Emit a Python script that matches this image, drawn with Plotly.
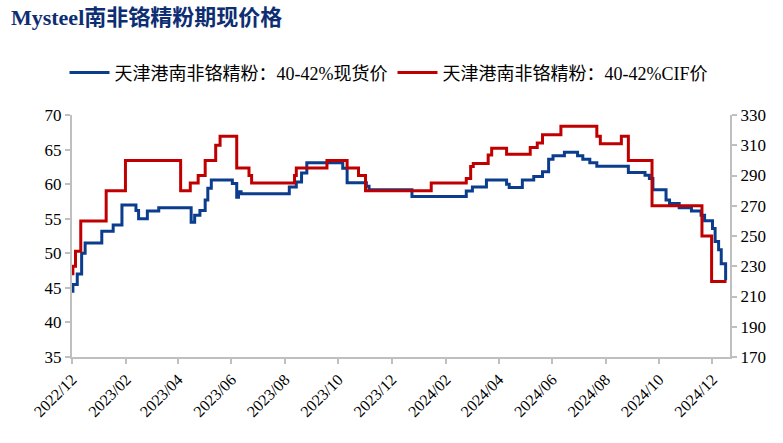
import plotly.graph_objects as go

spot_dates = ["2022-12-01", "2022-12-02", "2022-12-07", "2022-12-12", "2022-12-16",
              "2023-01-04", "2023-01-17", "2023-01-27", "2023-02-12", "2023-02-15",
              "2023-02-25", "2023-03-10", "2023-04-16", "2023-04-20", "2023-04-26",
              "2023-05-02", "2023-05-05", "2023-05-09", "2023-06-02", "2023-06-07",
              "2023-06-09", "2023-06-12", "2023-08-06", "2023-08-14", "2023-08-20",
              "2023-08-26", "2023-10-06", "2023-10-11", "2023-11-02", "2023-11-05",
              "2023-12-24", "2024-02-24", "2024-03-02", "2024-03-18", "2024-04-10",
              "2024-04-13", "2024-04-28", "2024-05-11", "2024-05-21", "2024-05-28",
              "2024-06-02", "2024-06-15", "2024-06-30", "2024-07-06", "2024-07-14",
              "2024-07-22", "2024-08-27", "2024-09-15", "2024-09-20", "2024-09-24",
              "2024-10-09", "2024-10-13", "2024-10-24", "2024-11-07", "2024-11-18",
              "2024-11-22", "2024-12-01", "2024-12-04", "2024-12-08", "2024-12-11",
              "2024-12-16"]
spot_values = [44.5, 45.5, 47.0, 50.0, 51.5,
               53.2, 54.1, 57.0, 56.2, 55.0,
               56.1, 56.6, 54.5, 55.5, 56.2,
               57.7, 59.4, 60.6, 60.1, 58.1,
               58.9, 58.6, 59.6, 60.3, 61.6,
               63.1, 62.3, 60.2, 59.7, 59.2,
               58.2, 59.0, 59.6, 60.6, 60.0,
               59.5, 60.6, 61.1, 61.8, 63.6,
               64.1, 64.6, 64.1, 63.6, 63.1,
               62.6, 61.7, 61.3, 60.8, 59.2,
               57.7, 57.2, 56.6, 56.1, 55.5,
               54.7, 53.6, 51.7, 50.5, 48.5,
               46.1]

cif_dates = ["2022-12-01", "2022-12-02", "2022-12-05", "2022-12-11", "2023-01-09",
             "2023-01-31", "2023-04-04", "2023-04-15", "2023-04-24", "2023-05-02",
             "2023-05-14", "2023-05-19", "2023-06-07", "2023-06-21", "2023-06-24",
             "2023-08-12", "2023-08-14", "2023-09-18", "2023-10-11", "2023-10-24",
             "2023-11-01", "2024-01-15", "2024-02-24", "2024-02-29", "2024-03-03",
             "2024-03-20", "2024-03-24", "2024-04-10", "2024-05-07", "2024-05-15",
             "2024-05-21", "2024-06-11", "2024-07-22", "2024-07-26", "2024-08-19",
             "2024-08-27", "2024-09-23", "2024-11-19", "2024-11-30", "2024-12-17"]
cif_values = [225, 230, 240, 260, 280,
              300, 280, 285, 290, 300,
              310, 316, 295, 290, 285,
              290, 295, 300, 295, 290,
              280, 285, 288, 296, 298,
              303.5, 308, 304, 308.5, 311.5,
              317, 322.5, 316, 311, 316,
              300, 270, 250, 220, 220]

spot_name = "天津港南非铬精粉：40-42%现货价"
cif_name = "天津港南非铬精粉：40-42%CIF价"
title_text = "Mysteel南非铬精粉期现价格"

font_family = "Liberation Serif, Noto Sans CJK SC, serif"
axis_color = "#bfbfbf"

fig = go.Figure()
fig.add_trace(go.Scatter(x=spot_dates, y=spot_values, name=spot_name, mode="lines",
                         line=dict(color="#0b3d8c", width=3, shape="hv"), yaxis="y"))
fig.add_trace(go.Scatter(x=cif_dates, y=cif_values, name=cif_name, mode="lines",
                         line=dict(color="#c00000", width=3, shape="hv"), yaxis="y2"))

fig.update_layout(
    width=783, height=443,
    margin=dict(l=72, r=53, t=115, b=86, autoexpand=False),
    paper_bgcolor="white", plot_bgcolor="white",
    font=dict(family=font_family, size=15, color="black"),
    title=dict(text="<b>" + title_text + "</b>", x=0.014, xanchor="left", y=0.962, yanchor="middle",
               pad=dict(l=0, r=0, t=0, b=0),
               font=dict(family=font_family, size=22, color="#0d2e73")),
    showlegend=True,
    legend=dict(orientation="h", x=0.481, xanchor="center", y=1.174, yanchor="middle",
                font=dict(family=font_family, size=18), itemwidth=40, tracegroupgap=0),
    xaxis=dict(type="date", range=["2022-12-01", "2024-12-21"],
               tick0="2022-12-01", dtick="M2", tickformat="%Y/%m", tickangle=-45,
               showgrid=False, showline=True, linecolor=axis_color, linewidth=2,
               ticks="outside", ticklen=5, tickcolor=axis_color, tickwidth=1.5,
               zeroline=False, tickfont=dict(size=16), automargin=False),
    yaxis=dict(range=[35, 70], dtick=5, showgrid=False, showline=True,
               linecolor=axis_color, linewidth=2, ticks="outside", ticklen=5,
               tickcolor=axis_color, tickwidth=1.5, zeroline=False, tickfont=dict(size=17),
               automargin=False),
    yaxis2=dict(range=[170, 330], tick0=170, dtick=20, overlaying="y", side="right", showgrid=False,
                showline=True, linecolor=axis_color, linewidth=2, ticks="outside", ticklen=5,
                tickcolor=axis_color, tickwidth=1.5, zeroline=False, tickfont=dict(size=17),
                automargin=False),
)

fig.write_html("out.html", config={"displayModeBar": False},
               post_script="document.body.style.margin='0';document.body.style.overflow='hidden';")
